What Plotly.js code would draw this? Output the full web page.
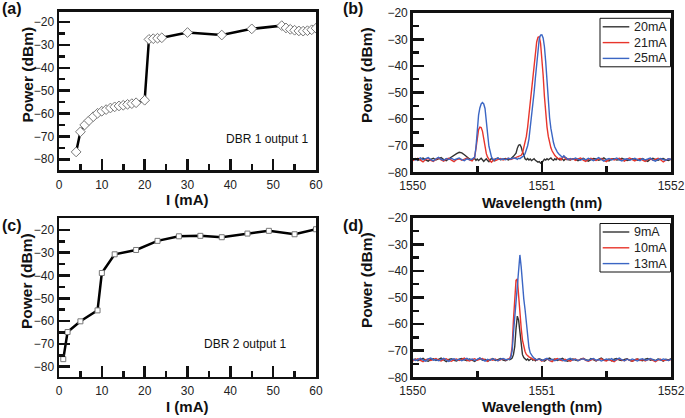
<!DOCTYPE html>
<html>
<head>
<meta charset="utf-8">
<script src="https://cdn.plot.ly/plotly-3.0.1.min.js"></script>
<style>html,body{margin:0;padding:0;background:#fff;}#chart{width:685px;height:418px;}</style>
</head>
<body>
<div id="chart"></div>
<script>
// ---------- Panel (a): DBR 1 output 1 ----------
const currentA = [4,5,6,7,8,9,10,11,12,13,14,15,16,17,18,20,21,22,23,24,30,38,45,52,53,54,55,56,57,58,59,60];
const powerA = [-76.8,-68.0,-65.0,-63.1,-61.4,-59.9,-59.0,-58.3,-57.6,-57.1,-56.7,-56.4,-56.0,-55.7,-55.3,-54.2,-27.6,-27.3,-27.1,-26.9,-24.6,-25.7,-23.0,-21.6,-22.6,-23.2,-23.6,-23.9,-24.0,-23.8,-23.4,-22.7];

// ---------- Panel (c): DBR 2 output 1 ----------
const currentC = [1,2,5,9,10,13,18,23,28,33,38,44,49,55,60];
const powerC = [-76.7,-64.8,-60.1,-55.3,-38.9,-30.7,-28.8,-24.8,-22.8,-22.6,-23.2,-21.6,-20.4,-21.9,-19.7];

// ---------- Panel (b): spectra ----------
const namesB = ["20mA","21mA","25mA"];
const wlB = [1550.00,1550.02,1550.04,1550.06,1550.08,1550.10,1550.12,1550.14,1550.16,1550.18,1550.20,1550.22,1550.24,1550.26,1550.28,1550.30,1550.32,1550.34,1550.36,1550.38,1550.40,1550.42,1550.44,1550.46,
1550.47,1550.48,1550.49,1550.50,1550.51,1550.52,1550.53,1550.54,1550.55,1550.56,1550.57,1550.58,1550.59,1550.60,1550.61,1550.62,1550.63,
1550.64,1550.66,1550.68,1550.70,1550.72,1550.74,1550.76,1550.78,
1550.80,1550.81,1550.82,1550.83,1550.84,1550.85,1550.86,1550.87,1550.88,1550.89,1550.90,1550.91,1550.92,1550.93,1550.94,1550.95,1550.96,1550.97,1550.98,1550.99,1551.00,1551.01,1551.02,1551.03,1551.04,1551.05,1551.06,1551.07,1551.08,1551.09,1551.10,1551.11,1551.12,1551.13,1551.14,1551.15,1551.16,1551.17,1551.18,1551.19,1551.20,
1551.22,1551.24,1551.26,1551.28,1551.30,1551.32,1551.34,1551.36,1551.38,1551.40,1551.42,1551.44,1551.46,1551.48,1551.50,1551.52,1551.54,1551.56,1551.58,1551.60,1551.62,1551.64,1551.66,1551.68,1551.70,1551.72,1551.74,1551.76,1551.78,1551.80,1551.82,1551.84,1551.86,1551.88,1551.90,1551.92,1551.94,1551.96,1551.98,1552.00];
const p20mA = [-75.2,-74.8,-75.5,-75.0,-74.6,-75.3,-75.8,-75.1,-74.7,-75.4,-75.0,-74.5,-75.2,-75.6,-74.9,-74.2,-73.6,-73.0,-72.5,-72.7,-73.4,-74.3,-75.0,-75.4,
-75.1,-74.8,-75.5,-75.0,-75.6,-75.2,-74.7,-75.3,-75.9,-75.4,-74.9,-75.6,-76.0,-75.3,-74.8,-75.2,-75.7,
-75.0,-74.6,-75.3,-75.1,-74.8,-75.4,-74.9,-74.0,
-72.8,-71.0,-69.8,-69.6,-70.5,-72.3,-74.0,-74.9,-75.3,-74.8,-75.4,-75.0,-75.6,-75.2,-74.9,-75.5,-75.8,-76.2,-76.0,-76.6,-76.4,-75.7,-75.1,-75.4,-74.9,-75.3,-75.0,-74.6,-75.2,-75.5,-74.9,-75.3,-74.7,-75.1,-75.4,-74.8,-75.0,-75.6,-75.1,-74.7,-75.2,
-75.4,-74.9,-75.1,-75.6,-75.0,-74.7,-75.3,-75.8,-75.2,-74.8,-75.0,-75.5,-75.1,-74.6,-75.3,-75.7,-75.0,-74.9,-75.4,-75.2,-74.7,-75.1,-75.6,-75.3,-74.9,-75.0,-75.5,-75.2,-74.8,-75.4,-75.9,-75.1,-74.7,-75.2,-75.5,-75.0,-74.8,-75.3,-75.6,-75.1];
const p21mA = [-75.6,-75.0,-74.7,-75.4,-76.1,-75.2,-74.8,-75.5,-75.9,-75.1,-74.6,-75.3,-75.8,-75.0,-74.7,-75.4,-76.0,-75.2,-74.9,-75.5,-75.1,-74.6,-75.3,-75.7,
-75.0,-74.3,-71.0,-66.5,-64.0,-63.0,-63.2,-64.5,-67.5,-71.0,-73.0,-74.3,-75.2,-75.8,-76.2,-75.5,-75.0,
-75.6,-75.1,-74.8,-75.4,-75.0,-74.7,-75.2,-74.8,
-74.6,-74.4,-74.3,-74.0,-73.6,-72.8,-71.0,-68.8,-66.5,-63.0,-58.5,-54.0,-48.5,-43.0,-39.0,-34.5,-31.0,-29.2,-29.0,-31.5,-37.0,-43.5,-51.5,-58.0,-63.0,-66.5,-68.8,-70.8,-72.0,-73.0,-73.6,-74.2,-74.6,-75.0,-74.7,-75.3,-74.5,-74.0,-74.6,-75.2,-74.8,
-75.3,-74.9,-75.5,-75.0,-74.6,-75.4,-75.9,-75.1,-74.7,-75.3,-75.6,-75.0,-74.8,-75.5,-76.0,-75.2,-74.9,-75.4,-75.1,-74.7,-75.3,-75.8,-75.0,-74.6,-75.2,-75.7,-75.1,-74.8,-75.4,-75.9,-75.2,-74.9,-75.5,-75.0,-74.7,-75.3,-76.1,-75.4,-74.9,-75.2];
const p25mA = [-74.9,-75.4,-75.1,-74.6,-75.3,-75.0,-74.5,-75.2,-75.7,-74.9,-74.4,-75.1,-75.5,-74.8,-75.2,-74.7,-75.3,-75.0,-74.6,-75.2,-75.6,-74.9,-75.3,-75.0,
-74.8,-74.3,-70.5,-64.0,-58.5,-55.8,-54.3,-53.8,-54.3,-56.0,-59.8,-65.5,-70.2,-72.8,-74.2,-75.0,-75.4,
-75.0,-74.6,-75.2,-74.9,-75.3,-74.7,-75.0,-74.6,
-74.8,-75.1,-74.7,-74.9,-74.5,-74.3,-73.8,-73.0,-71.8,-70.0,-67.5,-63.5,-59.5,-55.0,-50.0,-44.5,-39.0,-33.5,-29.8,-28.4,-28.3,-29.5,-32.8,-38.5,-46.0,-53.5,-59.5,-63.5,-66.5,-68.8,-70.5,-71.6,-72.4,-73.0,-73.6,-74.0,-74.4,-73.8,-74.3,-74.9,-75.2,
-74.8,-75.2,-74.6,-75.0,-75.5,-74.9,-75.3,-74.7,-75.1,-75.6,-75.0,-74.5,-75.2,-75.8,-75.1,-74.8,-75.4,-75.0,-74.6,-75.3,-75.7,-75.1,-74.9,-75.5,-75.0,-74.7,-75.2,-75.6,-74.9,-75.3,-75.0,-74.6,-75.4,-75.8,-75.1,-74.8,-75.2,-75.5,-74.9,-75.1];

// ---------- Panel (d): spectra ----------
const namesD = ["9mA","10mA","13mA"];
const wlD = [1550.00,1550.02,1550.04,1550.06,1550.08,1550.10,1550.12,1550.14,1550.16,1550.18,1550.20,1550.22,1550.24,1550.26,1550.28,1550.30,1550.32,1550.34,1550.36,1550.38,1550.40,1550.42,1550.44,1550.46,1550.48,1550.50,1550.52,1550.54,1550.56,1550.58,1550.60,1550.62,1550.64,1550.66,1550.68,1550.70,1550.72,1550.74,
1550.75,1550.76,1550.77,1550.78,1550.79,1550.80,1550.81,1550.82,1550.83,1550.84,1550.85,1550.86,1550.87,1550.88,1550.89,1550.90,1550.91,1550.92,1550.93,1550.94,1550.95,
1550.96,1550.98,1551.00,1551.02,1551.04,1551.06,1551.08,1551.10,1551.12,1551.14,1551.16,1551.18,1551.20,1551.22,1551.24,1551.26,1551.28,1551.30,1551.32,1551.34,1551.36,1551.38,1551.40,1551.42,1551.44,1551.46,1551.48,1551.50,1551.52,1551.54,1551.56,1551.58,1551.60,1551.62,1551.64,1551.66,1551.68,1551.70,1551.72,1551.74,1551.76,1551.78,1551.80,1551.82,1551.84,1551.86,1551.88,1551.90,1551.92,1551.94,1551.96,1551.98,1552.00];
const p9mA = [-73.5,-73.1,-73.8,-73.3,-72.9,-73.6,-74.0,-73.4,-73.0,-73.7,-73.2,-72.8,-73.5,-74.1,-73.3,-73.0,-73.6,-73.9,-73.2,-72.9,-73.4,-73.8,-73.1,-73.5,-74.0,-73.3,-72.8,-73.6,-73.2,-73.9,-73.4,-73.0,-73.7,-73.3,-72.9,-73.5,-73.8,-73.2,
-73.4,-73.2,-72.8,-71.5,-68.5,-61.8,-57.0,-58.5,-63.5,-68.8,-71.5,-72.6,-73.2,-73.5,-73.1,-73.7,-73.3,-72.9,-73.6,-73.2,-73.8,
-73.4,-73.0,-73.6,-73.9,-73.2,-72.8,-73.5,-73.1,-73.7,-73.3,-72.9,-73.6,-74.0,-73.4,-73.1,-73.5,-73.8,-73.2,-72.9,-73.4,-73.7,-73.0,-73.5,-73.9,-73.3,-72.8,-73.4,-73.6,-73.1,-73.8,-73.2,-72.9,-73.5,-73.7,-73.3,-73.0,-73.6,-74.0,-73.4,-73.1,-73.5,-73.8,-73.2,-72.9,-73.6,-73.3,-73.7,-73.1,-73.4,-73.9,-73.2,-73.5,-73.0];
const p10mA = [-73.8,-73.3,-73.0,-73.6,-74.1,-73.4,-73.1,-73.7,-73.2,-72.9,-73.5,-73.9,-73.3,-73.0,-73.6,-74.0,-73.4,-73.1,-73.7,-73.2,-72.8,-73.5,-73.9,-73.4,-73.0,-73.6,-73.3,-72.9,-73.5,-74.0,-73.2,-73.6,-73.1,-73.8,-73.4,-73.0,-73.5,-73.3,
-73.0,-71.8,-68.5,-58.5,-51.0,-43.5,-43.0,-50.0,-56.0,-61.5,-66.0,-68.5,-70.3,-71.4,-72.0,-72.3,-72.6,-72.9,-73.2,-73.5,-73.1,
-73.6,-73.2,-73.9,-73.4,-73.0,-73.7,-74.1,-73.3,-72.9,-73.5,-73.8,-73.2,-73.6,-74.0,-73.4,-73.1,-73.7,-73.3,-72.9,-73.6,-74.0,-73.5,-73.1,-73.8,-73.4,-73.0,-73.6,-73.9,-73.3,-73.7,-74.1,-73.4,-73.0,-73.5,-73.8,-73.2,-73.6,-74.0,-73.5,-73.1,-73.7,-73.3,-73.9,-73.4,-73.0,-73.6,-74.1,-73.5,-73.2,-73.8,-73.4,-73.7,-73.3];
const p13mA = [-73.2,-73.7,-73.4,-72.9,-73.5,-73.9,-73.1,-72.8,-73.6,-73.3,-73.8,-73.2,-72.9,-73.5,-74.0,-73.3,-73.0,-73.6,-73.2,-73.8,-73.4,-72.9,-73.5,-73.1,-73.7,-73.3,-72.8,-73.4,-73.9,-73.2,-73.6,-73.0,-73.5,-73.8,-73.2,-72.9,-73.4,-73.1,
-73.2,-72.5,-70.0,-63.5,-57.0,-50.3,-44.5,-39.0,-34.0,-38.5,-45.5,-50.5,-54.5,-59.0,-64.5,-68.8,-70.8,-71.7,-72.3,-72.8,-73.2,
-73.5,-73.1,-73.7,-73.3,-72.9,-73.6,-73.2,-73.8,-73.4,-73.0,-73.5,-73.9,-73.3,-72.9,-73.6,-73.2,-73.7,-73.4,-73.0,-73.5,-73.8,-73.2,-72.9,-73.6,-73.3,-73.9,-73.4,-73.1,-73.5,-73.0,-73.7,-73.3,-72.8,-73.4,-73.8,-73.2,-73.6,-73.1,-73.5,-73.9,-73.3,-73.0,-73.6,-73.4,-72.9,-73.5,-73.8,-73.2,-73.6,-73.1,-73.4,-73.7,-73.2];

const specColors = ["#333333","#e8352b","#3b66c4"];

// ---------- build ----------
const FONT = "Liberation Sans, Arial, sans-serif";
const W = 685, H = 418;
const px = v => v / W;
const py = v => 1 - v / H;

const traces = [
  {x: currentA, y: powerA, xaxis: "x", yaxis: "y", type: "scatter", mode: "lines+markers",
   line: {color: "#000", width: 2.5}, showlegend: false,
   marker: {symbol: "diamond", size: 7.5, color: "#fff", line: {color: "#777", width: 1}}},
  {x: currentC, y: powerC, xaxis: "x3", yaxis: "y3", type: "scatter", mode: "lines+markers",
   line: {color: "#000", width: 2.5}, showlegend: false,
   marker: {symbol: "square", size: 5, color: "#fff", line: {color: "#777", width: 1}}}
];
[p20mA, p21mA, p25mA].forEach((ys, i) => traces.push({
  x: wlB, y: ys, xaxis: "x2", yaxis: "y2", type: "scatter", mode: "lines", name: namesB[i],
  line: {color: specColors[i], width: 1.4}, showlegend: false
}));
[p9mA, p10mA, p13mA].forEach((ys, i) => traces.push({
  x: wlD, y: ys, xaxis: "x4", yaxis: "y4", type: "scatter", mode: "lines", name: namesD[i],
  line: {color: specColors[i], width: 1.4}, showlegend: false
}));

function axis(extra) {
  return Object.assign({
    showline: true, mirror: true, linecolor: "#111", linewidth: 2.5,
    ticks: "inside", ticklen: 11, tickwidth: 2.5, tickcolor: "#111",
    showgrid: false, zeroline: false, fixedrange: true,
    tickfont: {family: FONT, size: 12, color: "#222"}
  }, extra);
}
const minorOpt = d => ({dtick: d, ticklen: 6, tickwidth: 2.5, ticks: "inside", tickcolor: "#111"});

const xA = [px(59), px(316)];
const xB = [px(412.7), px(671)];

const layout = {
  width: W, height: H, margin: {l: 0, r: 0, t: 0, b: 0},
  paper_bgcolor: "#fff", plot_bgcolor: "#fff",
  font: {family: FONT, color: "#222"},
  showlegend: false,
  xaxis: axis({domain: xA, anchor: "y", range: [0, 60], tick0: 0, dtick: 10, ticklabelstandoff: 2, minor: minorOpt(5)}),
  yaxis: axis({domain: [py(170), py(11.7)], anchor: "x", range: [-84.7, -15.5], tick0: -80, dtick: 10, minor: minorOpt(5)}),
  xaxis2: axis({domain: xB, anchor: "y2", range: [1550, 1552], tick0: 1550, dtick: 1, ticklabelstandoff: 1, minor: minorOpt(0.5)}),
  yaxis2: axis({domain: [py(172.3), py(12.7)], anchor: "x2", range: [-80, -20], tick0: -80, dtick: 10, minor: minorOpt(5)}),
  xaxis3: axis({domain: xA, anchor: "y3", range: [0, 60], tick0: 0, dtick: 10, ticklabelstandoff: 1, minor: minorOpt(5)}),
  yaxis3: axis({domain: [py(376.7), py(218.3)], anchor: "x3", range: [-84.4, -14.9], tick0: -80, dtick: 10, minor: minorOpt(5)}),
  xaxis4: axis({domain: xB, anchor: "y4", range: [1550, 1552], tick0: 1550, dtick: 1, ticklabelstandoff: 1, minor: minorOpt(0.5)}),
  yaxis4: axis({domain: [py(377.3), py(217.7)], anchor: "x4", range: [-80, -20], tick0: -80, dtick: 10, minor: minorOpt(5)}),
  annotations: [],
  shapes: []
};

function note(text, x, y, size, opts) {
  layout.annotations.push(Object.assign({
    text: text, xref: "paper", yref: "paper", x: px(x), y: py(y),
    xanchor: "center", yanchor: "middle", showarrow: false,
    font: {family: FONT, size: size, color: "#111"}
  }, opts || {}));
}
// panel letters
note("<b>(a)</b>", 12.5, 9, 16);
note("<b>(b)</b>", 352.5, 8.5, 16);
note("<b>(c)</b>", 12, 225.5, 16);
note("<b>(d)</b>", 352.5, 225, 16);
// axis titles
note("<b>Power (dBm)</b>", 26.5, 75, 15.5, {textangle: -90});
note("<b>Power (dBm)</b>", 366.5, 75.5, 15.5, {textangle: -90});
note("<b>Power (dBm)</b>", 26.5, 281.5, 15.5, {textangle: -90});
note("<b>Power (dBm)</b>", 366.5, 280.5, 15.5, {textangle: -90});
note("<b>I (mA)</b>", 187.5, 199, 15);
note("<b>I (mA)</b>", 187.5, 406, 15);
note("<b>Wavelength (nm)</b>", 541.8, 202, 15);
note("<b>Wavelength (nm)</b>", 541.8, 406, 15);
// in-plot labels
note("DBR 1 output 1", 310, 138.5, 12, {xanchor: "right"});
note("DBR 2 output 1", 287.5, 344, 12, {xanchor: "right"});

// compact legends (box, line samples, names) for panels (b) and (d)
function legendBox(names, top) {
  layout.shapes.push({type: "rect", xref: "paper", yref: "paper",
    x0: px(600), x1: px(670.5), y0: py(top + 48.5), y1: py(top),
    line: {color: "#111", width: 1}, fillcolor: "#fff", layer: "above"});
  names.forEach((n, i) => {
    const yy = top + 8.5 + i * 15.8;
    layout.shapes.push({type: "line", xref: "paper", yref: "paper",
      x0: px(602.7), x1: px(629.3), y0: py(yy), y1: py(yy),
      line: {color: specColors[i], width: 1.4}, layer: "above"});
    note(n, 631.5, yy, 12.5, {xanchor: "left", font: {family: FONT, size: 12.5, color: "#222"}});
  });
}
legendBox(namesB, 18.3);
legendBox(namesD, 223.5);

Plotly.newPlot("chart", traces, layout, {displayModeBar: false, staticPlot: true});
</script>
</body>
</html>
